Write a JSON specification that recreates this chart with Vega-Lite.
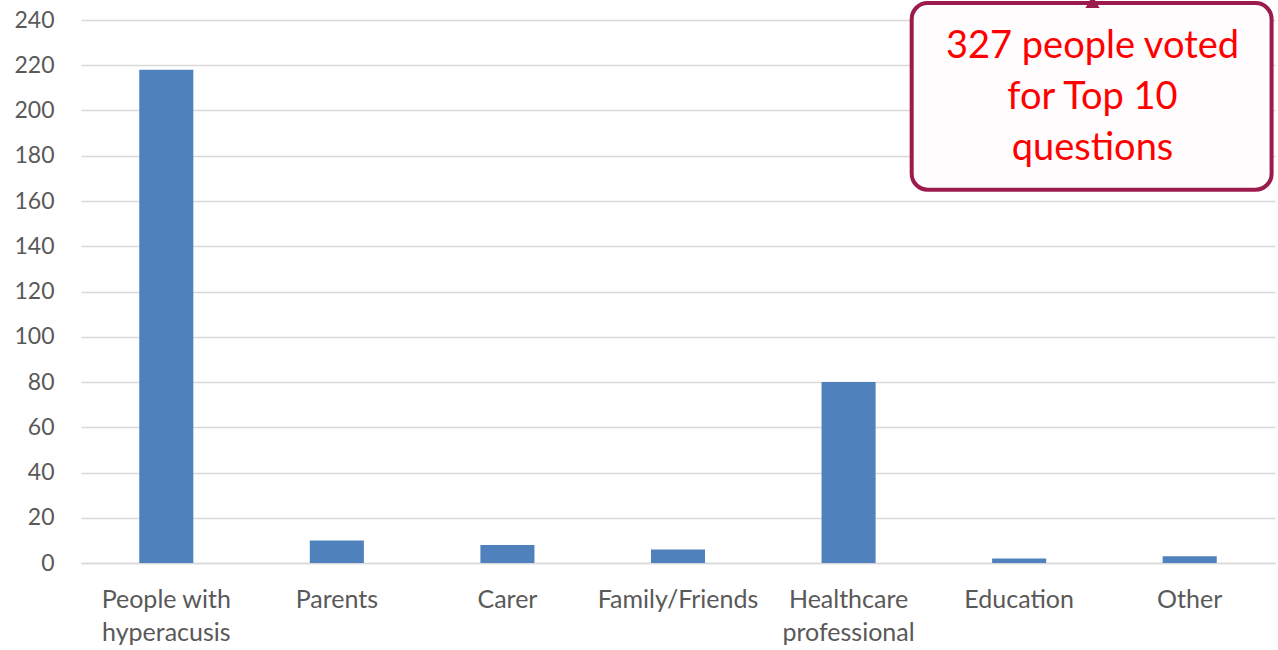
{
  "$schema": "https://vega.github.io/schema/vega-lite/v6.json",
  "autosize": "none",
  "padding": {"left": 81, "top": 20, "right": 3, "bottom": 87},
  "width": 1194,
  "height": 543,
  "background": "white",
  "config": {"view": {"stroke": null}, "font": "Lato"},
  "datasets": {
    "votes": [
      {"group": "People with hyperacusis", "count": 218},
      {"group": "Parents", "count": 10},
      {"group": "Carer", "count": 8},
      {"group": "Family/Friends", "count": 6},
      {"group": "Healthcare professional", "count": 80},
      {"group": "Education", "count": 2},
      {"group": "Other", "count": 3}
    ],
    "note": [
      {"x1": 4.87, "x2": 6.98, "y1": 165, "y2": 247.5, "xc": 5.93, "yc": 228, "label": "327 people voted\nfor Top 10\nquestions"}
    ]
  },
  "layer": [
    {
      "data": {"name": "votes"},
      "mark": {"type": "bar", "color": "#4F81BD"},
      "encoding": {
        "x": {
          "field": "group", "type": "nominal", "sort": null,
          "scale": {"paddingInner": 0.683, "paddingOuter": 0.3415},
          "axis": {
            "title": null, "ticks": false, "domain": true, "domainColor": "#D9D9D9", "domainWidth": 1.5,
            "labelAngle": 0, "labelColor": "#595959", "labelFontSize": 25, "labelFont": "Lato",
            "labelPadding": 24, "labelLineHeight": 33, "labelBaseline": "top",
            "labelExpr": "datum.label == 'People with hyperacusis' ? ['People with', 'hyperacusis'] : datum.label == 'Healthcare professional' ? ['Healthcare', 'professional'] : datum.label"
          }
        },
        "y": {
          "field": "count", "type": "quantitative",
          "scale": {"domain": [0, 240], "nice": false},
          "axis": {
            "title": null, "values": [0, 20, 40, 60, 80, 100, 120, 140, 160, 180, 200, 220, 240],
            "ticks": false, "domain": false, "grid": true, "gridColor": "#D9D9D9", "gridWidth": 1.5,
            "labelColor": "#595959", "labelFontSize": 23, "labelFont": "Lato", "labelPadding": 27
          }
        }
      }
    },
    {
      "data": {"name": "note"},
      "mark": {"type": "rect", "fill": "#FFFCFD", "stroke": "#9B1B4E", "strokeWidth": 4, "cornerRadius": 16},
      "encoding": {
        "x": {"field": "x1", "type": "quantitative", "scale": {"domain": [0, 7]}, "axis": null},
        "x2": {"field": "x2"},
        "y": {"field": "y1", "type": "quantitative", "scale": {"domain": [0, 240]}, "axis": null},
        "y2": {"field": "y2"}
      }
    },
    {
      "data": {"name": "note"},
      "mark": {"type": "point", "shape": "triangle-up", "filled": true, "color": "#9B1B4E", "size": 200, "opacity": 1},
      "encoding": {
        "x": {"field": "xc", "type": "quantitative", "scale": {"domain": [0, 7]}, "axis": null},
        "y": {"datum": 248, "type": "quantitative", "scale": {"domain": [0, 240]}, "axis": null}
      }
    },
    {
      "data": {"name": "note"},
      "mark": {"type": "text", "color": "#FF0000", "font": "Lato", "fontSize": 38, "lineBreak": "\n", "lineHeight": 51, "align": "center", "baseline": "middle"},
      "encoding": {
        "x": {"field": "xc", "type": "quantitative", "scale": {"domain": [0, 7]}, "axis": null},
        "y": {"field": "yc", "type": "quantitative", "scale": {"domain": [0, 240]}, "axis": null},
        "text": {"field": "label"}
      }
    }
  ],
  "resolve": {"scale": {"x": "independent", "y": "independent"}}
}
